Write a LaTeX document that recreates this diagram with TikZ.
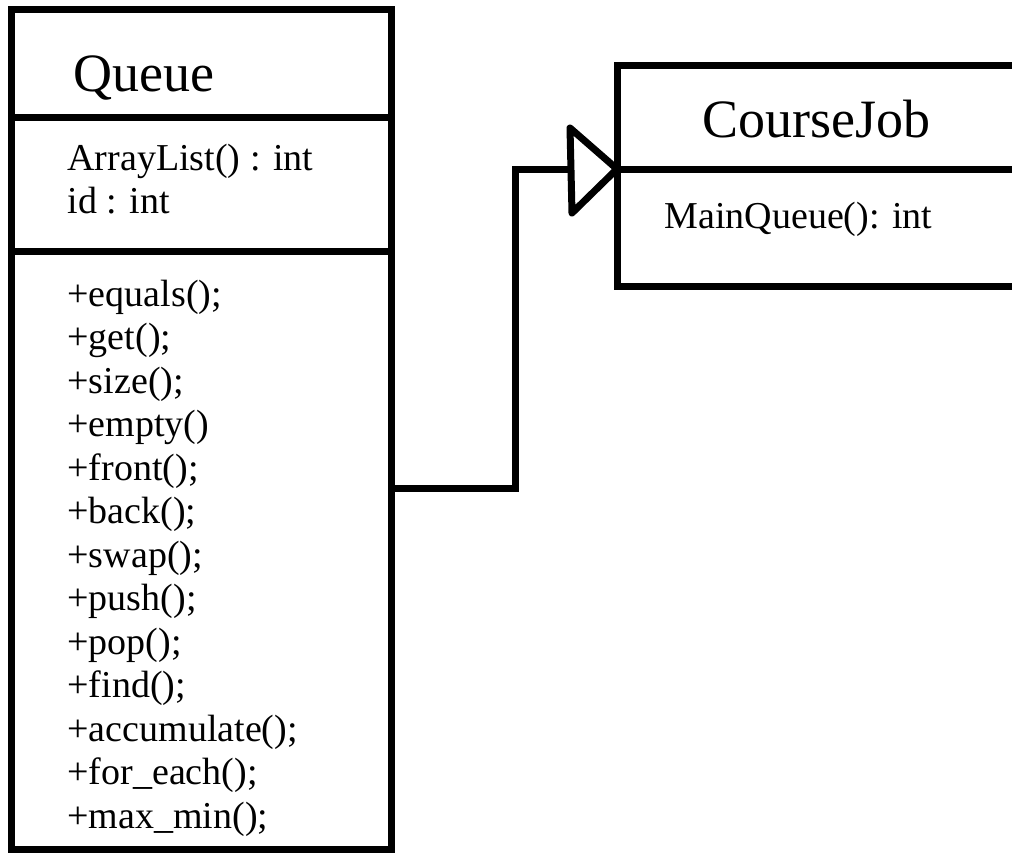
\documentclass[tikz,border=0pt]{standalone}
\usepackage{fontspec}
\setmainfont{Liberation Serif}
\usetikzlibrary{positioning}

\begin{document}
\begin{tikzpicture}[x=1pt,y=-1pt,line width=7pt,
    part/.style={draw,rectangle,anchor=north west,inner sep=0pt,outer sep=0pt},
    title/.style={anchor=base west,inner sep=0pt,font=\fontsize{54}{60}\selectfont},
    member/.style={anchor=base west,inner sep=0pt,font=\fontsize{38}{43.5}\selectfont}]
    \fill[white] (0,0) rectangle (1012,854);
    \useasboundingbox (0,0) rectangle (1012,854);
    \clip (0,0) rectangle (1012,854);
    % Queue class: name, attributes, operations
    \node[part,minimum width=379.5pt,minimum height=107.5pt] (qhead) at (11.5,9.5) {};
    \node[part,minimum width=379.5pt,minimum height=134pt] (qattr) at (qhead.south west) {};
    \node[part,minimum width=379.5pt,minimum height=598pt] (qops) at (qattr.south west) {};
    \node[title] (qname) at (70,91) {Queue};
    \node[member] (qa1) at (64,170) {ArrayList() : int};
    \node[member] (qa2) at (64,213) {id : int};
    \foreach \op [count=\i] in {equals();,get();,size();,empty(),front();,back();,swap();,
        push();,pop();,find();,accumulate();,for\_each();,max\_min();}
        \node[member] (qm\i) at (64,{306+43.5*(\i-1)}) {+\op};
    % CourseJob class, runs off the right side
    \node[part,minimum width=430pt,minimum height=104pt] (chead) at (617,65) {};
    \node[part,minimum width=430pt,minimum height=117pt] (cattr) at (chead.south west) {};
    \node[title] (cname) at (699,137) {CourseJob};
    \node[member] (ca1) at (661,228) {MainQueue(): int};
    % generalization Queue -> CourseJob
    \coordinate (inhfrom) at (391,488);
    \coordinate (inhto) at (cattr.north west);
    \draw (inhfrom) -| ([xshift=-102pt]inhto) -- ([xshift=-47pt]inhto);
    \draw[line join=round] (inhto) -- ([shift={(-47,-41)}]inhto)
        -- ([shift={(-45,44)}]inhto) -- cycle;
\end{tikzpicture}
\end{document}
